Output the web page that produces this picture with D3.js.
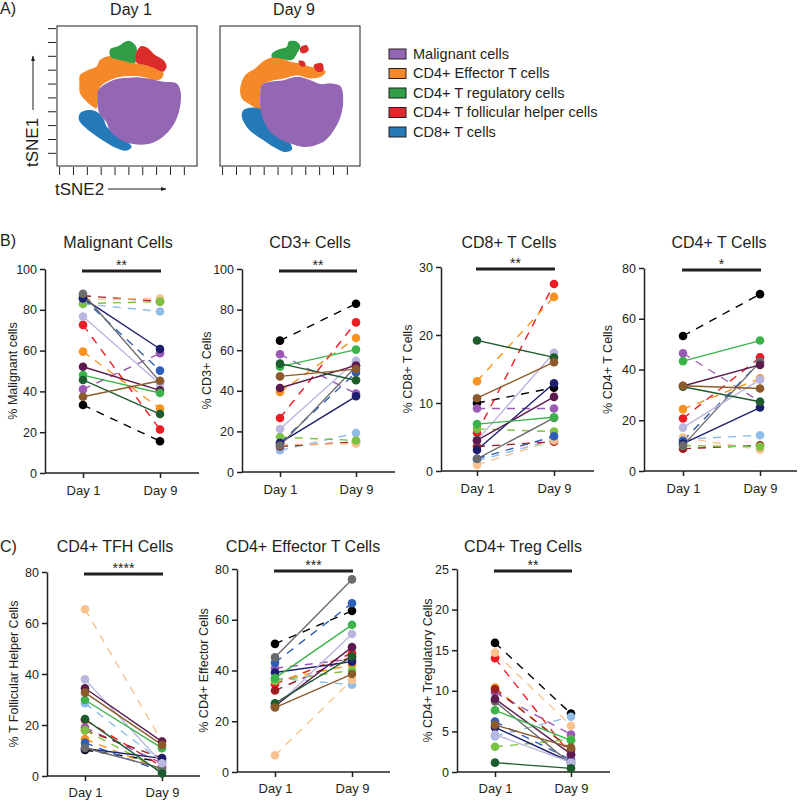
<!DOCTYPE html>
<html>
<head>
<meta charset="utf-8">
<script src="https://cdn.jsdelivr.net/npm/d3@7"></script>
<style>
  body { margin: 0; background: #fff; }
  text { font-family: "Liberation Sans", Arial, sans-serif; fill: #231f20; }
</style>
</head>
<body>
<svg id="fig" width="800" height="801"></svg>
<script>
// ---- data -------------------------------------------------------------------
const days = ["Day 1", "Day 9"];

// 16 patients, same colour / line style in every panel
const patientColors = ["#000000", "#ed1c24", "#f7931e", "#9b59b6", "#8fbde8", "#9e1f23",
                       "#f9c28e", "#7dc142", "#2e5eb8", "#1c1f6e", "#6b6b6b", "#b9b6e0",
                       "#5c1a4e", "#3cb34a", "#1d5c2c", "#8c5a2b"];
const patientDashed = [true, true, true, true, true, true, true, true, true,
                       false, false, false, false, false, false, false];

// [Day 1, Day 9] per patient
const malignantPct = [[33.3, 15.6], [72.6, 21.3], [59.5, 31.6], [41, 58.7], [82.9, 79.2], [86.9, 84.1],
                      [85, 85.5], [83, 84], [85.5, 50.2], [85.7, 60.8], [87.9, 44.8], [76.7, 43.6],
                      [52.1, 40.5], [48, 39.2], [45.6, 28.9], [37.4, 45.2]];
const cd3Pct = [[64.7, 82.9], [26.6, 73.7], [39.4, 66], [58, 38.6], [10.7, 19.2], [12.6, 14.8],
                [13.5, 14], [17.2, 15.5], [14.3, 49], [14.3, 37.3], [13, 52], [21.2, 54.8],
                [41.4, 52.5], [51.9, 60.3], [53.4, 45.2], [47.1, 50.7]];
const cd8Pct = [[10, 12.25], [5.6, 27.5], [13.2, 25.6], [9.2, 9.2], [1.5, 4.6], [3.6, 4.3],
                [0.9, 4.5], [6.2, 5.8], [1.8, 5.1], [3.1, 12.9], [1.8, 7.8], [4.5, 17.4],
                [4.5, 10.9], [6.9, 7.9], [19.2, 16.7], [10.7, 16]];
const cd4Pct = [[53.2, 69.7], [20.7, 44.8], [24.4, 36.5], [46.4, 27.3], [12.5, 14.1], [8.8, 10.1],
                [13.2, 8.4], [10, 9.6], [11.9, 43], [10.8, 25], [10, 43], [17.1, 36],
                [33.5, 41.8], [43.3, 51.4], [33.2, 27.3], [33.6, 32.5]];
const tfhPct = [[10.2, 5.6], [22, 3.7], [14.5, 2.5], [19, 5], [28.5, 5.5], [18, 7],
                [65.4, 13.5], [18, 2], [13, 1.7], [10.8, 6.9], [11, 3], [37.9, 5],
                [34.4, 13.5], [29.8, 10.9], [22.3, 1], [32.7, 12.2]];
const effectorPct = [[50.5, 63.5], [34.6, 46.8], [36, 42.2], [40.9, 44.5], [37, 34.4], [32.1, 45.5],
                     [6.6, 36.3], [36, 40], [43.1, 66.5], [39.2, 43.5], [45.2, 75.9], [25.5, 54.4],
                     [26, 49.2], [37, 58], [27.1, 45.5], [25.4, 38.6]];
const tregPct = [[15.9, 7.2], [14, 2.1], [10.4, 2.7], [9.8, 4.6], [4.4, 6.8], [10.2, 2.8],
                 [14.7, 5.7], [3.1, 4.0], [6.2, 1.5], [5.5, 1.2], [8.7, 1.0], [4.6, 1.2],
                 [9.0, 2.2], [7.6, 3.9], [1.15, 0.45], [5.8, 3.0]];

// tSNE cluster outlines, [x %, y % from top] of each plot box
const clusterNames  = ["Malignant cells", "CD4+ Effector T cells", "CD4+ T regulatory cells",
                       "CD4+ T follicular helper cells", "CD8+ T cells"];
const clusterColors = ["#9467b5", "#f5892a", "#2f9e46", "#dc2b2b", "#2479b8"];

const day1Malignant = [[29.5, 45.7], [40.2, 38.6], [54.5, 36.7], [65.2, 37.6], [76, 39.8], [85.5, 41],
                       [88.3, 46.9], [87.9, 57.6], [85, 67.1], [79.5, 75.5], [72.4, 81.4], [64, 84.5],
                       [54.5, 84.3], [45, 81], [37.9, 74.8], [35, 68.3], [30.7, 63.6], [28.8, 55.2], [28.8, 50.5]];
const day1Effector = [[16.4, 35], [21.2, 31.9], [28.3, 29], [30.7, 24.3], [37.9, 21.4], [47.4, 24.3],
                      [56.9, 26.7], [64, 27.9], [71.2, 31], [76, 33.3], [74.8, 37.4], [68.8, 39],
                      [64, 36.9], [54.5, 35.7], [40.2, 37.6], [30.7, 43.8], [29, 51.7], [28.3, 58.8],
                      [24.8, 57.1], [20, 52.9], [16.4, 48.1], [16, 41]];
const day1Treg = [[37.9, 16.7], [43.8, 14.3], [51, 10.5], [56.4, 14.3], [56.9, 20.7], [55.7, 26.2],
                  [47.4, 24.8], [38.3, 21.9]];
const day1Tfh = [[57.4, 17.1], [60.5, 14.3], [65.2, 16], [70, 20.7], [76, 24.3], [78.3, 29],
                 [76, 32.6], [71.2, 31], [64, 28.1], [56.9, 26.2], [56.4, 20.7]];
const day1Cd8 = [[16.4, 62.4], [22.4, 60], [28.3, 61.2], [33.1, 66], [35.5, 71.9], [40.2, 75.5],
                 [45, 80.2], [49.8, 82.6], [53.3, 86.2], [49.8, 89], [41.4, 86.7], [33.1, 81.9],
                 [26, 77.1], [20, 72.4], [15.7, 67.1]];

const day9Malignant = [[29.9, 42.2], [35.9, 39.9], [45.5, 38.7], [55, 36.3], [64.6, 38.7], [71.8, 41.5],
                       [79, 41], [86.1, 43], [88, 53], [86.1, 64.9], [81.3, 74.5], [75.4, 81.6],
                       [68.2, 85.2], [59.8, 86.4], [50.2, 84], [41.9, 80.4], [35.9, 75.7], [32.3, 69.7],
                       [29.4, 62.5], [28.7, 53]];
const day9Effector = [[14.4, 44.6], [17.9, 35.1], [25.1, 30.3], [32.3, 24.3], [40.7, 22], [50.2, 25.5],
                      [57.4, 26.7], [64.6, 29.1], [71.8, 30.3], [75.4, 32.7], [71.8, 36.3], [64.6, 37.5],
                      [55, 35.1], [45.5, 37.5], [35.9, 39.4], [29.9, 42.2], [28.7, 53], [29.9, 60.1],
                      [26.3, 58.9], [20.3, 55.4], [15.6, 51.8]];
const day9Treg = [[37.1, 19.6], [41.9, 16.7], [47.8, 14.8], [49, 11.2], [55, 11.2], [57.4, 14.8],
                  [55, 19.6], [51.4, 24.3], [43.1, 23.2], [37.1, 22.4]];
const day9TfhA = [[57.4, 15.3], [61.7, 13.6], [63.4, 17.2], [59.8, 19.6], [57.4, 18.4]];
const day9TfhB = [[56.2, 24.8], [60.3, 25.5], [61, 28.6], [57.4, 28.6]];
const day9TfhC = [[67, 27.9], [73, 26.7], [73.7, 31.9], [69.4, 32.7]];
const day9Cd8 = [[16.7, 60.1], [23.9, 58.2], [29.9, 60.1], [33.5, 64.9], [35.9, 72.1], [40.7, 76.8],
                 [45.5, 81.6], [50.2, 84], [51.4, 88.3], [46.7, 90], [38.3, 86.4], [31.1, 81.6],
                 [23.9, 76.8], [19.1, 72.1], [15.6, 64.9]];

const tsneTicks = [1.5, 11.4, 21.3, 31.2, 41.1, 51, 60.9, 70.8, 80.7, 90.6];

// ---- figure -----------------------------------------------------------------
const svg = d3.select("#fig");

// panel letters
svg.append("text").attr("x", 0).attr("y", 14).attr("font-size", 16).text("A)");
svg.append("text").attr("x", 0).attr("y", 246).attr("font-size", 16).text("B)");
svg.append("text").attr("x", 0).attr("y", 552).attr("font-size", 16).text("C)");

// -- A: tSNE maps
function drawTsne(box, title, shapes, leftTicks) {
  const g = svg.append("g");
  const x = d3.scaleLinear().domain([0, 100]).range([box.x, box.x + box.w]);
  const y = d3.scaleLinear().domain([0, 100]).range([box.y, box.y + box.h]);
  const line = d3.line().x(d => x(d[0])).y(d => y(d[1])).curve(d3.curveCatmullRomClosed.alpha(0.5));
  shapes.forEach(s => {
    g.append("path").attr("d", line(s.pts)).attr("fill", clusterColors[s.c]);
  });
  g.append("rect").attr("x", box.x).attr("y", box.y).attr("width", box.w).attr("height", box.h)
    .attr("fill", "none").attr("stroke", "#231f20").attr("stroke-width", 1);
  g.append("text").attr("x", box.x + box.w / 2 + 4).attr("y", 15).attr("text-anchor", "middle")
    .attr("font-size", 16).text(title);
  const bx = d3.axisBottom(x).tickValues(tsneTicks).tickSize(8).tickFormat("");
  g.append("g").attr("transform", `translate(0,${box.y + box.h + 1})`).call(bx)
    .call(a => a.select(".domain").remove());
  if (leftTicks) {
    const ly = d3.axisLeft(y).tickValues(tsneTicks).tickSize(8).tickFormat("");
    g.append("g").attr("transform", `translate(${box.x - 1},0)`).call(ly)
      .call(a => a.select(".domain").remove());
  }
  g.selectAll(".tick line").attr("stroke", "#231f20").attr("stroke-width", 1);
}

drawTsne({ x: 57, y: 26, w: 140, h: 140 }, "Day 1", [
  { pts: day1Effector, c: 1 }, { pts: day1Treg, c: 2 }, { pts: day1Tfh, c: 3 },
  { pts: day1Cd8, c: 4 }, { pts: day1Malignant, c: 0 }
], true);
drawTsne({ x: 220, y: 26, w: 140, h: 140 }, "Day 9", [
  { pts: day9Effector, c: 1 }, { pts: day9Treg, c: 2 }, { pts: day9TfhA, c: 3 },
  { pts: day9TfhB, c: 3 }, { pts: day9TfhC, c: 3 }, { pts: day9Cd8, c: 4 }, { pts: day9Malignant, c: 0 }
], false);

// axis names with arrows
const defs = svg.append("defs");
defs.append("marker").attr("id", "arrow").attr("viewBox", "0 0 10 10").attr("refX", 9).attr("refY", 5)
  .attr("markerWidth", 6).attr("markerHeight", 6).attr("orient", "auto")
  .append("path").attr("d", "M0,1.5 L10,5 L0,8.5 Z").attr("fill", "#231f20");
svg.append("text").attr("transform", "translate(38,167) rotate(-90)").attr("font-size", 17).text("tSNE1");
svg.append("line").attr("x1", 33).attr("x2", 33).attr("y1", 110).attr("y2", 56)
  .attr("stroke", "#231f20").attr("stroke-width", 1).attr("marker-end", "url(#arrow)");
svg.append("text").attr("x", 55).attr("y", 195).attr("font-size", 17).text("tSNE2");
svg.append("line").attr("x1", 108).attr("x2", 166).attr("y1", 189).attr("y2", 189)
  .attr("stroke", "#231f20").attr("stroke-width", 1).attr("marker-end", "url(#arrow)");

// legend
const legend = svg.append("g").selectAll("g").data(clusterNames).join("g")
  .attr("transform", (d, i) => `translate(389,${49 + i * 19.5})`);
legend.append("rect").attr("width", 17).attr("height", 10)
  .attr("fill", (d, i) => clusterColors[i]).attr("stroke", "#231f20").attr("stroke-width", 1);
legend.append("text").attr("x", 24).attr("y", 9.5).attr("font-size", 14.5).text(d => d);

// -- B/C: paired Day 1 / Day 9 plots
const panels = [
  { title: "Malignant Cells", ylab: "% Malignant cells", vals: malignantPct, yMax: 100, step: 20, stars: "**",
    left: 45, d1: 83, d9: 160, yTop: 269, yBot: 473, xEnd: 199, titleX: 118, row: 0, labX: 17 },
  { title: "CD3+ Cells", ylab: "% CD3+ Cells", vals: cd3Pct, yMax: 100, step: 20, stars: "**",
    left: 242, d1: 280, d9: 356, yTop: 269, yBot: 472, xEnd: 395, titleX: 310, row: 0, labX: 211 },
  { title: "CD8+ T Cells", ylab: "% CD8+ T Cells", vals: cd8Pct, yMax: 30, step: 10, stars: "**",
    left: 441, d1: 477, d9: 554, yTop: 267, yBot: 471, xEnd: 594, titleX: 509, row: 0, labX: 412 },
  { title: "CD4+ T Cells", ylab: "% CD4+ T Cells", vals: cd4Pct, yMax: 80, step: 20, stars: "*",
    left: 644, d1: 683, d9: 760, yTop: 268, yBot: 471, xEnd: 797, titleX: 719, row: 0, labX: 612 },
  { title: "CD4+ TFH Cells", ylab: "% T Follicular Helper Cells", vals: tfhPct, yMax: 80, step: 20, stars: "****",
    left: 47, d1: 85, d9: 162, yTop: 572, yBot: 776, xEnd: 200, titleX: 115, row: 1, labX: 18 },
  { title: "CD4+ Effector T Cells", ylab: "% CD4+ Effector Cells", vals: effectorPct, yMax: 80, step: 20, stars: "***",
    left: 237, d1: 275, d9: 352, yTop: 569, yBot: 772, xEnd: 390, titleX: 303, row: 1, labX: 208 },
  { title: "CD4+ Treg Cells", ylab: "% CD4+ Tregulatory Cells", vals: tregPct, yMax: 25, step: 5, stars: "**",
    left: 457, d1: 495, d9: 571, yTop: 569, yBot: 772, xEnd: 610, titleX: 523, row: 1, labX: 432 }
];

function drawPaired(p) {
  const g = svg.append("g");
  const x = d3.scalePoint().domain(days).range([p.d1, p.d9]);
  const y = d3.scaleLinear().domain([0, p.yMax]).range([p.yBot, p.yTop]);

  // y axis
  const yAxis = d3.axisLeft(y).tickValues(d3.range(0, p.yMax + 0.001, p.step))
    .tickSize(5).tickSizeOuter(0).tickPadding(3);
  const ya = g.append("g").attr("transform", `translate(${p.left},0)`).call(yAxis);
  ya.selectAll("text").attr("font-size", 12.5).attr("font-family", null);

  // x axis: long baseline, ticks only at the two days
  g.append("line").attr("x1", p.left).attr("x2", p.xEnd).attr("y1", p.yBot).attr("y2", p.yBot)
    .attr("stroke", "#231f20").attr("stroke-width", 1.5);
  const xa = g.append("g").attr("transform", `translate(0,${p.yBot})`)
    .call(d3.axisBottom(x).tickSize(5).tickPadding(p.row === 0 ? 8 : 7));
  xa.select(".domain").remove();
  xa.selectAll("text").attr("font-size", 13).attr("font-family", null).attr("dy", "0.71em");

  g.selectAll(".domain, .tick line").attr("stroke", "#231f20").attr("stroke-width", 1.5);

  // titles
  const titleY = p.row === 0 ? 248 : 552;
  g.append("text").attr("x", p.titleX).attr("y", titleY).attr("text-anchor", "middle")
    .attr("font-size", 16).text(p.title);
  g.append("text").attr("transform", `translate(${p.labX},${(p.yTop + p.yBot) / 2}) rotate(-90)`)
    .attr("text-anchor", "middle").attr("font-size", 12.5).text(p.ylab);

  // significance bar
  const sigY = p.yTop + 2;
  g.append("line").attr("x1", x(days[0]) - 1).attr("x2", x(days[1]) + 1).attr("y1", sigY).attr("y2", sigY)
    .attr("stroke", "#231f20").attr("stroke-width", 3);
  g.append("text").attr("x", (x(days[0]) + x(days[1])) / 2).attr("y", sigY - 1)
    .attr("text-anchor", "middle").attr("font-size", 14).text(p.stars);

  // patient lines then dots
  const line = d3.line().x((d, i) => x(days[i])).y(d => y(d));
  g.append("g").selectAll("path").data(p.vals).join("path")
    .attr("d", d => line(d)).attr("fill", "none")
    .attr("stroke", (d, i) => patientColors[i]).attr("stroke-width", 1.4)
    .attr("stroke-dasharray", (d, i) => patientDashed[i] ? "8,7" : null);
  const dots = p.vals.flatMap((v, i) => v.map((val, j) => ({ i, j, val })));
  g.append("g").selectAll("circle").data(dots).join("circle")
    .attr("cx", d => x(days[d.j])).attr("cy", d => y(d.val)).attr("r", 4.3)
    .attr("fill", d => patientColors[d.i]);
}

panels.forEach(drawPaired);
</script>
</body>
</html>
